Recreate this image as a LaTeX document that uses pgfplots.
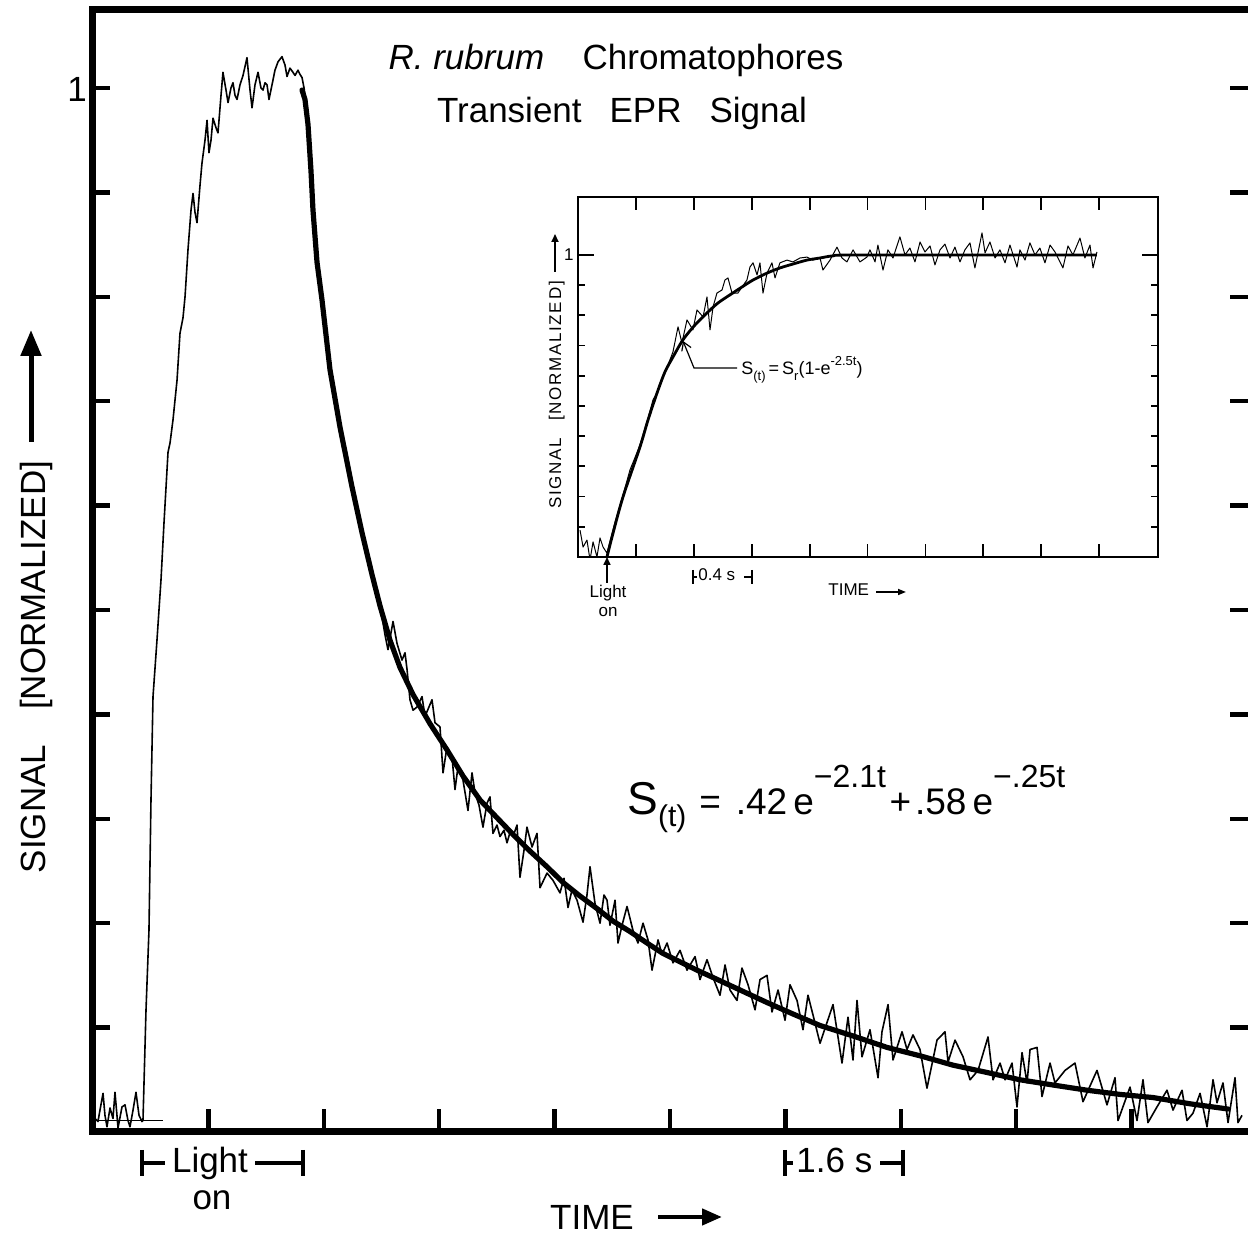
\documentclass[border=0pt]{standalone}
\usepackage{fontspec}
\setmainfont{Liberation Sans}
\usepackage{pgfplots}
\pgfplotsset{compat=1.18}
\usetikzlibrary{arrows.meta}
\newcommand{\fs}[1]{\fontsize{#1}{#1}\selectfont}
\begin{document}
\begin{tikzpicture}
\useasboundingbox (0,0) rectangle (624pt,617.5pt);
% ---------------- main axis ----------------
\begin{axis}[
  at={(46.5pt,51.5pt)}, anchor=south west,
  scale only axis, width=577pt, height=561pt,
  xmin=0, xmax=16, ymin=0, ymax=1.0747,
  axis x line*=box, axis y line*=left,
  axis line style={line width=3.5pt, line cap=rect},
  tick align=inside,
  xtick=\empty, xticklabels={},
  extra x ticks={1.6,3.2,4.8,6.4,8.0,9.6,11.2,12.8,14.4},
  extra x tick labels={},
  extra x tick style={major tick length=11.5pt},
  ytick={0.1,0.2,0.3,0.4,0.5,0.6,0.7,0.8,0.9,1.0}, yticklabels={},
  xtick pos=left, ytick pos=left,
  major tick length=8.5pt,
  tick style={line width=2.2pt, black},
]
\addplot[black, line width=0.6pt] coordinates {(0,0.011) (0.971,0.011)};
\addplot[black, line width=0.8pt, line join=round] coordinates {
(0.028,0.013) (0.069,0.010) (0.097,0.021) (0.139,0.037) (0.166,0.016) (0.194,0.005) (0.236,0.023) (0.277,0.013) (0.305,0.038) (0.347,0.004) (0.402,0.024) (0.444,0.026) (0.485,0.011) (0.513,0.005) (0.555,0.021) (0.596,0.038) (0.638,0.016) (0.679,0.010) (0.693,0.011)
(0.735,0.117) (0.776,0.193) (0.804,0.318) (0.832,0.417) (0.887,0.471) (0.943,0.529) (0.984,0.583) (1.040,0.651) (1.068,0.660) (1.109,0.682) (1.165,0.720) (1.206,0.765) (1.248,0.780) (1.276,0.800) (1.317,0.845) (1.359,0.883) (1.387,0.899) (1.414,0.881) (1.442,0.871) (1.484,0.907) (1.511,0.928) (1.553,0.950) (1.581,0.969) (1.608,0.938) (1.636,0.950) (1.664,0.971) (1.705,0.962) (1.733,0.957) (1.775,0.993) (1.802,1.015) (1.844,0.998) (1.872,0.986) (1.913,1.000) (1.941,1.005) (1.969,0.993) (1.997,0.989) (2.038,1.003) (2.080,1.012) (2.135,1.029) (2.177,0.998) (2.205,0.981) (2.246,1.003) (2.288,1.015) (2.329,1.000) (2.357,0.998) (2.385,1.005) (2.413,1.003) (2.440,0.989) (2.482,1.003) (2.523,1.017) (2.565,1.025) (2.620,1.030) (2.662,1.022) (2.690,1.011) (2.731,1.019) (2.773,1.015) (2.801,1.012) (2.842,1.017) (2.870,1.013) (2.898,1.010) (2.926,1.000)
(2.981,0.969) (3.036,0.907) (3.092,0.840) (3.147,0.811) (3.217,0.776) (3.286,0.728) (3.341,0.709) (3.383,0.696) (3.425,0.677) (3.494,0.646) (3.563,0.632) (3.633,0.607) (3.702,0.584) (3.771,0.559) (3.841,0.545) (3.910,0.519) (3.979,0.505) (4.049,0.476) (4.090,0.462) (4.160,0.489) (4.215,0.468) (4.284,0.452) (4.326,0.459) (4.354,0.443) (4.395,0.414) (4.437,0.404) (4.492,0.407) (4.562,0.417) (4.603,0.398) (4.700,0.414) (4.742,0.392) (4.811,0.388) (4.853,0.344) (4.908,0.369) (4.978,0.359) (5.019,0.328) (5.061,0.350) (5.130,0.337) (5.199,0.308) (5.255,0.344) (5.296,0.325) (5.352,0.313) (5.407,0.292) (5.463,0.315) (5.504,0.321) (5.546,0.286) (5.601,0.294) (5.643,0.283) (5.698,0.289) (5.740,0.277) (5.782,0.287) (5.823,0.283) (5.879,0.294) (5.920,0.244) (5.976,0.270) (6.017,0.292) (6.087,0.273) (6.156,0.286) (6.198,0.234) (6.295,0.248) (6.378,0.241) (6.475,0.229) (6.530,0.243) (6.586,0.215) (6.641,0.232) (6.711,0.222) (6.794,0.201) (6.849,0.227) (6.891,0.254) (6.960,0.219) (7.030,0.200) (7.085,0.227) (7.127,0.222) (7.168,0.198) (7.238,0.222) (7.279,0.181) (7.335,0.198) (7.404,0.216) (7.487,0.193) (7.556,0.181) (7.626,0.200) (7.695,0.184) (7.751,0.155) (7.834,0.184) (7.889,0.170) (7.959,0.181) (8.042,0.162) (8.139,0.174) (8.236,0.155) (8.347,0.168) (8.416,0.146) (8.513,0.165) (8.596,0.148) (8.693,0.131) (8.763,0.160) (8.832,0.136) (8.929,0.126) (8.998,0.157) (9.082,0.141) (9.179,0.117) (9.248,0.146) (9.345,0.150) (9.414,0.115) (9.498,0.136) (9.595,0.107) (9.664,0.141) (9.761,0.126) (9.844,0.098) (9.913,0.131) (9.983,0.112) (10.080,0.085) (10.260,0.122) (10.385,0.066) (10.468,0.110) (10.537,0.069) (10.593,0.126) (10.662,0.072) (10.773,0.098) (10.884,0.052) (10.939,0.096) (11.023,0.122) (11.092,0.069) (11.217,0.096) (11.286,0.079) (11.369,0.093) (11.466,0.079) (11.563,0.042) (11.702,0.088) (11.813,0.096) (11.855,0.067) (11.952,0.088) (12.063,0.072) (12.160,0.050) (12.271,0.059) (12.409,0.091) (12.479,0.050) (12.576,0.066) (12.645,0.050) (12.742,0.066) (12.811,0.024) (12.881,0.076) (12.950,0.047) (12.992,0.079) (13.089,0.081) (13.158,0.034) (13.269,0.066) (13.338,0.047) (13.477,0.059) (13.615,0.066) (13.726,0.029) (13.920,0.059) (14.059,0.026) (14.170,0.052) (14.212,0.011) (14.378,0.043) (14.475,0.011) (14.558,0.050) (14.627,0.009) (14.752,0.024) (14.891,0.040) (14.974,0.021) (15.099,0.040) (15.168,0.011) (15.251,0.018) (15.349,0.037) (15.446,0.005) (15.529,0.050) (15.584,0.028) (15.667,0.047) (15.737,0.009) (15.834,0.052) (15.875,0.009) (15.931,0.016)
};
\addplot[black, line width=2.6pt, line cap=round, line join=round] coordinates {
(2.898,0.998) (2.939,0.989) (2.981,0.965) (3.022,0.921) (3.050,0.883) (3.106,0.833) (3.175,0.797) (3.286,0.730) (3.425,0.675) (3.591,0.618) (3.730,0.574) (3.868,0.534) (3.979,0.504) (4.118,0.471) (4.256,0.445) (4.437,0.419) (4.673,0.391) (4.908,0.366) (5.130,0.341) (5.366,0.318) (5.601,0.301) (5.823,0.285) (6.059,0.269) (6.295,0.254) (6.517,0.239) (6.752,0.226) (6.988,0.214) (7.210,0.202) (7.445,0.192) (7.681,0.181) (7.903,0.171) (8.139,0.163) (8.374,0.155) (8.596,0.148) (8.971,0.136) (9.345,0.124) (9.706,0.113) (10.080,0.102) (10.537,0.092) (11.009,0.081) (11.466,0.073) (11.924,0.064) (12.395,0.057) (12.853,0.050) (13.310,0.045) (13.782,0.040) (14.239,0.036) (14.697,0.033) (15.210,0.027) (15.737,0.022)
};
\end{axis}
% ---------------- inset axis ----------------
\begin{axis}[
  at={(289pt,339pt)}, anchor=south west,
  scale only axis, width=290pt, height=180pt,
  xmin=0, xmax=4.007, ymin=0, ymax=1.192,
  axis background/.style={fill=white},
  axis line style={line width=1.3pt},
  tick align=inside,
  xtick=\empty, xticklabels={},
  extra x ticks={0.4,0.8,1.2,1.6,2.0,2.4,2.8,3.2,3.6}, extra x tick labels={},
  extra x tick style={major tick length=6.5pt},
  ytick={0.1,0.2,0.3,0.4,0.5,0.6,0.7,0.8,0.9}, yticklabels={},
  extra y ticks={1}, extra y tick labels={},
  extra y tick style={major tick length=8pt},
  major tick length=3.5pt,
  xtick pos=both, ytick pos=both,
  tick style={line width=0.9pt, black},
]
\addplot[black, line width=0.5pt, line join=round] coordinates {
(0.014,0.089) (0.035,0.033) (0.062,0.056) (0.083,-0.010) (0.104,0.050) (0.131,0.000) (0.152,0.063) (0.173,0.033) (0.200,0.013) (0.256,0.116) (0.311,0.205) (0.359,0.288) (0.401,0.338) (0.428,0.371) (0.484,0.460) (0.518,0.520) (0.546,0.543) (0.587,0.599) (0.622,0.636) (0.656,0.679) (0.691,0.762) (0.718,0.709) (0.753,0.785) (0.794,0.752) (0.822,0.818) (0.864,0.795) (0.891,0.861) (0.912,0.752) (0.933,0.828) (0.960,0.874) (0.995,0.884) (1.015,0.917) (1.036,0.924) (1.064,0.874) (1.105,0.874) (1.133,0.894) (1.167,0.917) (1.188,0.960) (1.209,0.974) (1.237,0.934) (1.257,0.974) (1.278,0.874) (1.306,0.940) (1.340,0.974) (1.361,0.924) (1.395,0.974) (1.444,0.983) (1.485,0.977) (1.534,0.990) (1.582,0.993) (1.623,0.983) (1.672,0.990) (1.692,0.950) (1.741,0.983) (1.789,1.026) (1.824,0.990) (1.858,0.977) (1.900,1.017) (1.948,0.977) (1.996,0.993) (2.017,1.017) (2.052,0.977) (2.072,1.033) (2.107,0.950) (2.141,1.017) (2.176,0.990) (2.224,1.060) (2.259,1.000) (2.293,1.023) (2.328,0.977) (2.363,1.043) (2.397,1.010) (2.432,1.030) (2.466,0.967) (2.501,1.017) (2.535,1.036) (2.570,0.990) (2.604,1.026) (2.639,0.977) (2.673,1.017) (2.708,1.040) (2.742,0.957) (2.791,1.073) (2.812,1.007) (2.846,1.043) (2.881,0.990) (2.915,1.017) (2.950,0.974) (2.984,1.033) (3.033,0.960) (3.053,1.017) (3.088,0.983) (3.122,1.040) (3.157,1.000) (3.191,1.023) (3.226,0.974) (3.261,1.033) (3.295,1.010) (3.350,0.957) (3.385,1.030) (3.419,1.000) (3.468,1.056) (3.502,0.990) (3.537,1.033) (3.558,0.957) (3.585,1.010)
};
\addplot[black, line width=1.4pt, smooth, tension=0.5] coordinates {
(0.200,0.000) (0.242,0.079) (0.311,0.199) (0.428,0.364) (0.484,0.454) (0.546,0.543) (0.601,0.613) (0.656,0.662) (0.725,0.719) (0.808,0.768) (0.891,0.808) (0.967,0.841) (1.050,0.868) (1.133,0.894) (1.209,0.917) (1.306,0.940) (1.395,0.957) (1.485,0.970) (1.582,0.983) (1.672,0.990) (1.762,0.997) (1.948,1.000) (3.585,1.000)
};
\end{axis}
% ---------------- annotations (pixel coordinates) ----------------
\begin{scope}[x=0.5pt, y=-0.5pt, yshift=617.5pt]
\foreach \yy in {88,192.4,296.8,401.2,505.6,610,714.4,818.8,923.2,1027.6}
  \draw[line width=2.2pt] (1230,\yy) -- (1250,\yy);
\node[anchor=base, font=\fs{17.5}] at (616,70) {\textit{R. rubrum}\hspace{1.1em}Chromatophores};
\node[anchor=base, font=\fs{17.5}] at (622,123) {Transient\hspace{0.8em}EPR\hspace{0.8em}Signal};
\node[font=\fs{17.5}] at (77,89) {1};
\node[rotate=90, anchor=base, font=\fs{17.5}] at (45,667) {SIGNAL\hspace{1em}[NORMALIZED]};
\draw[line width=2.5pt, -{Triangle[length=13pt,width=10pt]}] (31,442) -- (31,330);
\node[anchor=base, font=\fs{17.5}] at (592,1230) {TIME};
\draw[line width=2.2pt, -{Triangle[length=10pt,width=8pt]}] (658,1217) -- (722,1217);
\draw[line width=2pt] (142,1150)--(142,1176) (142,1163)--(165,1163) (255,1163)--(303,1163) (303,1150)--(303,1176);
\node[anchor=base, font=\fs{17.5}] at (210,1173) {Light};
\node[anchor=base, font=\fs{17.5}] at (212,1210) {on};
\draw[line width=2pt] (785,1150)--(785,1176) (785,1163)--(793,1163) (880,1163)--(903,1163) (903,1150)--(903,1176);
\node[anchor=base west, inner sep=0pt, font=\fs{17.5}] at (796,1173) {1.6 s};
\node[anchor=base west, inner sep=0pt, font=\fs{18.5}] at (627,815) {{\fs{23}S}\raisebox{-0.3em}{\fs{15}(t)}\hspace{0.35em}=\hspace{0.4em}.42\,e\raisebox{0.75em}{\fs{16}−2.1t}\hspace{0.1em}+\hspace{0.1em}.58\,e\raisebox{0.75em}{\fs{16}−.25t}};
% inset annotations
\node[rotate=90, anchor=base, font=\fs{8.5}] at (561,395) {\addfontfeature{LetterSpace=10}SIGNAL\hspace{1em}[NORMALIZED]};
\draw[line width=0.9pt, -{Triangle[length=4pt,width=3.5pt]}] (555,272) -- (555,234);
\node[anchor=east, inner sep=1pt, font=\fs{8.5}] at (576,255) {1};
\draw[line width=0.8pt, -{Triangle[length=4pt,width=3.5pt]}] (607,583) -- (607,557);
\node[anchor=base, font=\fs{8.5}] at (608,598) {Light};
\node[anchor=base, font=\fs{8.5}] at (608,617) {on};
\draw[line width=0.8pt] (693,570)--(693,584) (693,577)--(697,577) (744,577)--(752,577) (752,570)--(752,584);
\node[anchor=base west, inner sep=0pt, font=\fs{8.5}] at (698,581) {0.4 s};
\node[anchor=base west, inner sep=0pt, font=\fs{8.5}] at (828,596) {TIME};
\draw[line width=0.8pt, -{Triangle[length=4pt,width=3pt]}] (876,592) -- (906,592);
\draw[line width=0.6pt, -{Straight Barb[length=4pt,width=5pt]}] (737,368) -- (694,368) -- (683,341);
\node[anchor=base west, inner sep=0pt, font=\fs{9}] at (741,375) {S\raisebox{-0.3em}{\fs{6.5}(t)}\,=\,S\raisebox{-0.3em}{\fs{6.5}r}(1-e\raisebox{0.5em}{\fs{6.5}-2.5t})};
\end{scope}
\end{tikzpicture}
\end{document}
